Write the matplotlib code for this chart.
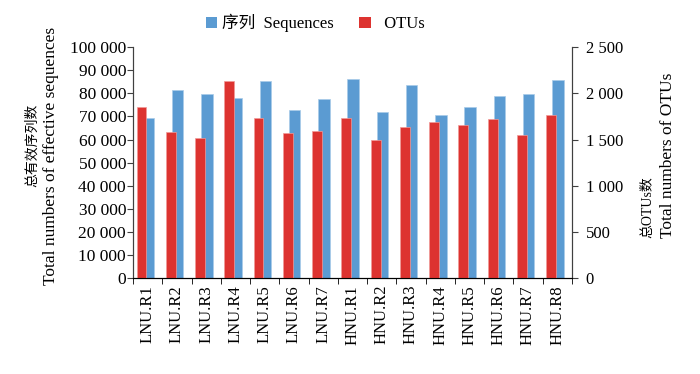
import numpy as np
import matplotlib
matplotlib.use("Agg")
import matplotlib.pyplot as plt
from matplotlib.ticker import FuncFormatter, FixedLocator
from matplotlib.patches import Patch

plt.rcParams['font.family'] = ['Liberation Serif', 'Noto Sans CJK SC']

# Data
samples = ['LNU.R1', 'LNU.R2', 'LNU.R3', 'LNU.R4', 'LNU.R5', 'LNU.R6', 'LNU.R7',
           'HNU.R1', 'HNU.R2', 'HNU.R3', 'HNU.R4', 'HNU.R5', 'HNU.R6', 'HNU.R7', 'HNU.R8']
sequences = [69500, 81600, 79900, 78100, 85300, 72800, 77400,
             86300, 72100, 83800, 70600, 74200, 78900, 79800, 85700]
otus = [1856, 1579, 1518, 2133, 1730, 1572, 1590,
        1730, 1500, 1632, 1685, 1659, 1721, 1550, 1765]

blue = '#5B9BD2'
red = '#DD3330'
spine_col = '#404040'

def spaced(v, pos):
    return f"{int(v):,}".replace(",", " ")

W, H = 700, 374
fig = plt.figure(figsize=(W / 100, H / 100), dpi=100)
ax = fig.add_axes([0.19, 0.2567, 0.627, 0.617])
ax2 = ax.twinx()

x = np.arange(len(samples))
ax.bar(x + 0.5225, sequences, width=0.395, color=blue, edgecolor='#a9cbe8', linewidth=0.5)
ax2.bar(x + 0.29, otus, width=0.34, color=red, edgecolor='#f09a98', linewidth=0.5)

ax.set_xlim(0, len(samples))
ax.set_ylim(0, 100000)
ax2.set_ylim(0, 2500)
ax.set_yticks(np.arange(0, 100001, 10000))
ax2.set_yticks(np.arange(0, 2501, 500))
ax.yaxis.set_major_formatter(FuncFormatter(spaced))
ax2.yaxis.set_major_formatter(FuncFormatter(spaced))

# category labels at centres, tick marks at boundaries
ax.set_xticks(x + 0.5)
ax.set_xticklabels(samples, rotation=90, fontsize=12)
ax.tick_params(axis='x', which='major', length=0, pad=5)
ax.xaxis.set_minor_locator(FixedLocator(np.arange(0, len(samples) + 1)))
ax.tick_params(axis='x', which='minor', length=4, direction='out', color='black')

ax.tick_params(axis='y', length=4, direction='out', labelsize=12.5, pad=1, color=spine_col)
ax2.tick_params(axis='y', length=4, direction='out', labelsize=12, pad=6, color=spine_col)

for a in (ax, ax2):
    a.spines['top'].set_visible(False)
    a.spines['left'].set_color(spine_col)
    a.spines['right'].set_color(spine_col)
    a.spines['bottom'].set_color('black')

# axis titles: Chinese line and English line as separate texts
fig.text(32 / W, 1 - 145 / H, '总有效序列数', rotation=90, ha='center', va='center', fontsize=10)
fig.text(51 / W, 1 - 156 / H, 'Total numbers of effective sequences', rotation=90,
         ha='center', va='center', fontsize=12.5)
fig.text(648 / W, 1 - 238 / H, '总OTUs数', rotation=90, ha='center', va='bottom', fontsize=10)
fig.text(668 / W, 1 - 238 / H, 'Total numbers of OTUs', rotation=90, ha='center', va='bottom',
         fontsize=12.5)

handles = [Patch(facecolor=blue, label='序列  Sequences'),
           Patch(facecolor=red, label='  OTUs')]
fig.legend(handles=handles, loc='center', bbox_to_anchor=(0.45, 0.938), ncol=2, frameon=False,
           fontsize=12, handlelength=0.7, handleheight=0.7, handletextpad=0.3, columnspacing=1.5)

fig.savefig('out.png', dpi=100)
